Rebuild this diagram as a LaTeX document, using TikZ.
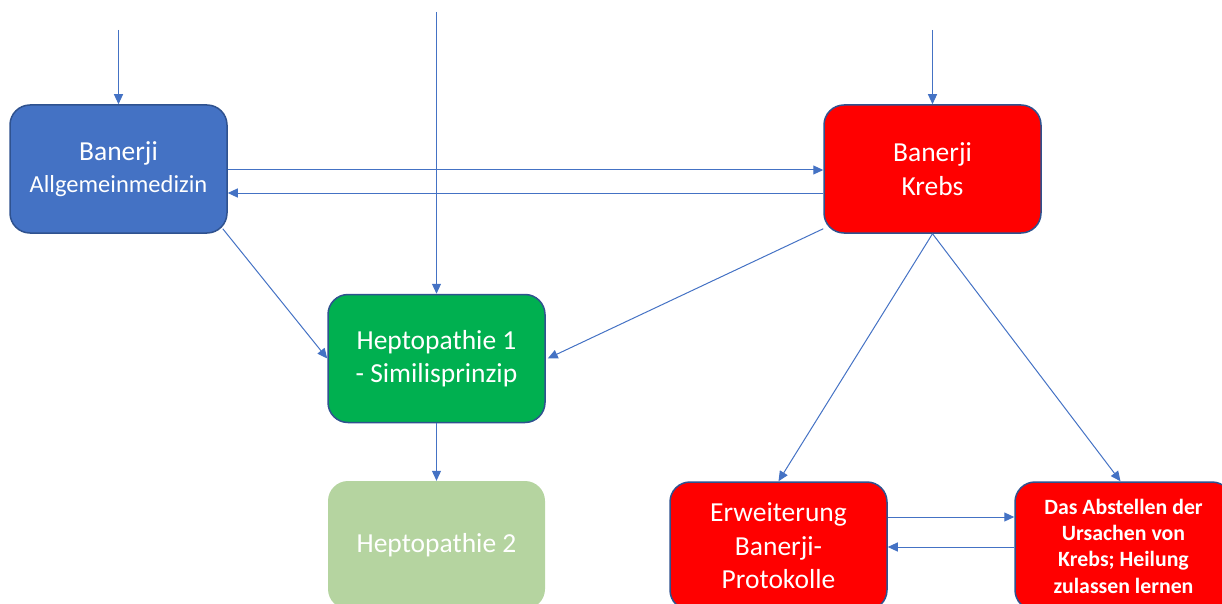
\documentclass[tikz,border=0pt]{standalone}
\usepackage{fontspec}
\setmainfont{Carlito}
\usetikzlibrary{arrows.meta,calc}
\definecolor{arrblue}{HTML}{4472C4}
\definecolor{boxborder}{HTML}{2F528F}
\definecolor{boxblue}{HTML}{4472C4}
\definecolor{boxred}{HTML}{FF0000}
\definecolor{boxgreen}{HTML}{00B050}
\definecolor{boxlight}{HTML}{B5D4A0}
\tikzset{
  box/.style={rectangle, rounded corners=20pt, minimum width=217pt, minimum height=128pt,
    inner sep=0pt, text=white, align=center, font=\fontsize{27.5}{33.5}\selectfont},
  bordered/.style={draw=boxborder, line width=1.5pt},
  arr/.style={draw=arrblue, line width=1pt, -{Triangle[length=10pt,width=9pt]}},
  boldtext/.style={font=\fontsize{21.8}{26.3}\selectfont\bfseries}
}
\begin{document}
\begin{tikzpicture}[x=1pt,y=-1pt]
\useasboundingbox (0,0) rectangle (1222,604);
\clip (0,0) rectangle (1222,604);
\node[box,bordered,fill=boxblue] (blue) at (118.5,169) {Banerji\\[-2pt]{\fontsize{24.5}{30}\selectfont Allgemeinmedizin}};
\node[box,bordered,fill=boxred] (krebs) at (932.5,169) {Banerji\\Krebs};
\node[box,bordered,fill=boxgreen] (green) at (436.5,358.5) {Heptopathie 1\\- Similisprinzip};
\node[box,fill=boxlight] (light) at (436.5,545) {Heptopathie 2};
\node[box,bordered,fill=boxred] (erw) at (778.5,546) {Erweiterung\\Banerji-\\Protokolle};
\node[box,bordered,fill=boxred,boldtext] (abst) at (1123.5,546) {Das Abstellen der\\Ursachen von\\Krebs; Heilung\\zulassen lernen};
\coordinate (inblue) at (118.5,30);
\coordinate (ingreen) at (436.5,12);
\coordinate (inkrebs) at (932.5,30);
\draw[arr] (inblue) -- (blue.north);
\draw[arr] (ingreen) -- (green.north);
\draw[arr] (inkrebs) -- (krebs.north);
\draw[arr] (blue.east |- 0,170) -- (krebs.west |- 0,170);
\draw[arr] (krebs.west |- 0,193) -- (blue.east |- 0,193);
\draw[arr] ($(blue.south east)+(-5,-5)$) -- (green.west);
\draw[arr] ($(krebs.south west)+(0,-5)$) -- ($(green.east)+(2,0)$);
\draw[arr] (green.south) -- (light.north);
\draw[arr] (krebs.south) -- (erw.north);
\draw[arr] (krebs.south) -- ($(abst.north)+(-3,0)$);
\draw[arr] (erw.east |- 0,517) -- (abst.west |- 0,517);
\draw[arr] (abst.west |- 0,547) -- (erw.east |- 0,547);
\end{tikzpicture}
\end{document}
